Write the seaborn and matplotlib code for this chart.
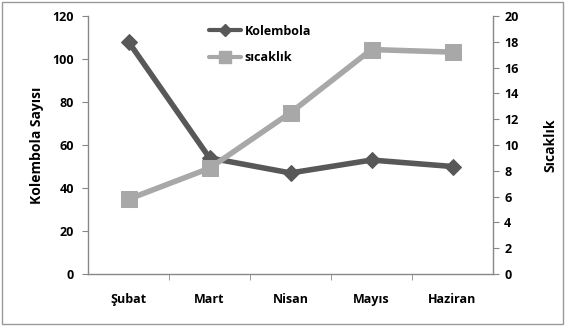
import matplotlib
matplotlib.use("Agg")
import matplotlib.pyplot as plt
from matplotlib.lines import Line2D
import seaborn as sns
import pandas as pd
import numpy as np

months = ["Şubat", "Mart", "Nisan", "Mayıs", "Haziran"]
kolembola = [108, 54, 47, 53, 50]
sicaklik = [5.8, 8.2, 12.5, 17.4, 17.2]

sns.set_style("white")
plt.rcParams['font.family'] = ['Open Sans', 'DejaVu Sans']
plt.rcParams['font.weight'] = 'bold'
plt.rcParams['text.color'] = 'black'
plt.rcParams['axes.labelcolor'] = 'black'
plt.rcParams['xtick.color'] = 'black'
plt.rcParams['ytick.color'] = 'black'

df = pd.DataFrame({"Ay": months, "Kolembola": kolembola, "sıcaklık": sicaklik})

fig = plt.figure(figsize=(5.65, 3.26), dpi=100)
ax = fig.add_axes([88/565, 52/326, (493-88)/565, (274-16)/326])
ax2 = ax.twinx()

dark = "#585858"
light = "#a8a8a8"

sns.lineplot(data=df, x="Ay", y="Kolembola", ax=ax, color=dark, lw=4,
             marker="D", markersize=8, markeredgecolor=dark, sort=False)
sns.lineplot(data=df, x="Ay", y="sıcaklık", ax=ax2, color=light, lw=4,
             marker="s", markersize=12, markeredgecolor=light, sort=False)

ax.set_ylim(0, 120)
ax.set_yticks(np.arange(0, 121, 20))
ax2.set_ylim(0, 20)
ax2.set_yticks(np.arange(0, 21, 2))
ax.set_xlim(-0.5, len(months) - 0.5)

ax.set_xlabel("")
ax.set_ylabel("Kolembola Sayısı", fontsize=10, fontweight="bold", labelpad=6)
ax2.set_ylabel("Sıcaklık", fontsize=10, fontweight="bold", labelpad=18)

spine_c = "#888888"
for a in (ax, ax2):
    a.spines["top"].set_visible(False)
    for s in ("left", "right", "bottom"):
        a.spines[s].set_color(spine_c)
        a.spines[s].set_linewidth(1)
ax.spines["right"].set_visible(False)
ax2.spines["left"].set_visible(False)
ax2.spines["bottom"].set_visible(False)

ax.tick_params(axis="y", direction="out", length=4, color=spine_c, labelcolor="black", labelsize=9, pad=6)
ax2.tick_params(axis="y", direction="out", length=4, color=spine_c, labelcolor="black", labelsize=9, pad=4)
ax.set_xticks(np.arange(0.5, len(months) - 1, 1), minor=True)
ax.tick_params(axis="x", which="minor", direction="out", length=4, color=spine_c, bottom=True)
ax.tick_params(axis="x", which="major", length=0, labelcolor="black", labelsize=9, pad=14)
for lbl in ax.get_xticklabels() + ax.get_yticklabels() + ax2.get_yticklabels():
    lbl.set_fontweight("bold")

handles = [
    Line2D([], [], color=dark, lw=3, marker="D", markersize=6),
    Line2D([], [], color=light, lw=3, marker="s", markersize=9),
]
leg = ax.legend(handles, ["Kolembola", "sıcaklık"], loc="upper left",
                bbox_to_anchor=(0.27, 1.01), frameon=False, fontsize=9,
                handlelength=2.6, labelspacing=1.1, handletextpad=0.3)
for t in leg.get_texts():
    t.set_fontweight("bold")
    t.set_color("black")
if ax2.get_legend():
    ax2.get_legend().remove()

fig.patches.append(plt.Rectangle((0.003, 0.006), 0.994, 0.988, transform=fig.transFigure,
                                 fill=False, edgecolor="#999999", lw=1))

fig.savefig("out.png", dpi=100)
